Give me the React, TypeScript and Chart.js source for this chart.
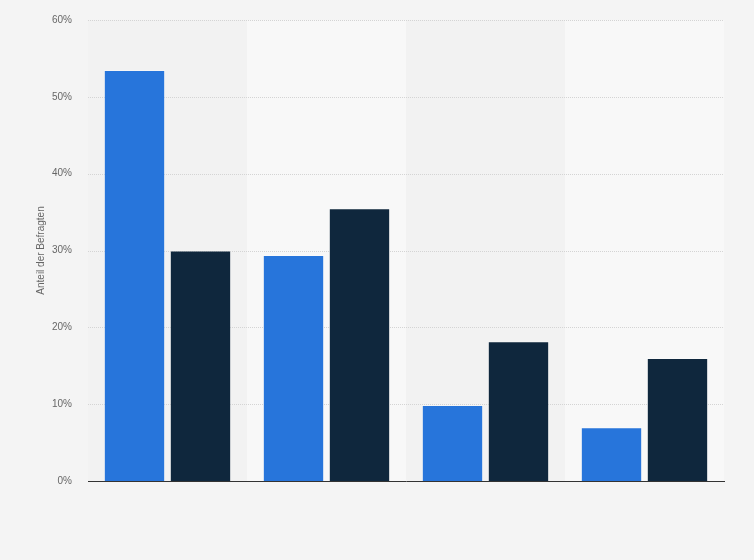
import React, { useEffect, useRef } from "react";
import { Chart, registerables } from "chart.js";

Chart.register(...registerables);

const categories = ["Kategorie A", "Kategorie B", "Kategorie C", "Kategorie D"];
const seriesBlue = [53.5, 29.4, 9.9, 7.0];
const seriesDark = [30.0, 35.5, 18.2, 16.0];
const yTicks = [0, 10, 20, 30, 40, 50, 60];

const bandPlugin = {
  id: "bands",
  beforeDatasetsDraw(chart: any) {
    const { ctx, chartArea, scales } = chart;
    const x = scales.x;
    const n = categories.length;
    const w = (chartArea.right - chartArea.left) / n;
    ctx.save();
    for (let i = 0; i < n; i++) {
      const c = x.getPixelForValue(i);
      ctx.fillStyle = i % 2 === 0 ? "#f2f2f2" : "#f8f8f8";
      ctx.fillRect(c - w / 2, chartArea.top, w, chartArea.bottom - chartArea.top);
    }
    ctx.restore();
  },
};

const gridPlugin = {
  id: "dotGrid",
  beforeDatasetsDraw(chart: any) {
    const { ctx, chartArea, scales } = chart;
    const y = scales.y;
    ctx.save();
    ctx.strokeStyle = "#d4d4d4";
    ctx.lineWidth = 1;
    ctx.setLineDash([1, 1]);
    for (const t of yTicks) {
      if (t === 0) continue;
      const py = Math.round(y.getPixelForValue(t)) + 0.5;
      ctx.beginPath();
      ctx.moveTo(chartArea.left, py);
      ctx.lineTo(chartArea.right, py);
      ctx.stroke();
    }
    ctx.restore();
  },
};

export default function App() {
  const ref = useRef<HTMLCanvasElement | null>(null);
  useEffect(() => {
    if (!ref.current) return;
    const chart = new Chart(ref.current, {
      type: "bar",
      data: {
        labels: categories,
        datasets: [
          {
            label: "Reihe 1",
            data: seriesBlue,
            backgroundColor: "#2775db",
            borderColor: "rgba(255,255,255,0.3)",
            borderWidth: 1,
            categoryPercentage: 0.83,
            barPercentage: 0.93,
          },
          {
            label: "Reihe 2",
            data: seriesDark,
            backgroundColor: "#0f273d",
            borderColor: "rgba(255,255,255,0.3)",
            borderWidth: 1,
            categoryPercentage: 0.83,
            barPercentage: 0.93,
          },
        ],
      },
      plugins: [bandPlugin, gridPlugin],
      options: {
        animation: false,
        responsive: false,
        maintainAspectRatio: false,
        layout: { padding: { left: 35, right: 30, top: 20, bottom: 71 } },
        plugins: {
          legend: { display: false },
          tooltip: { enabled: false },
        },
        scales: {
          x: {
            ticks: { display: false },
            grid: { display: false },
            border: { display: true, color: "#333333", width: 1 },
          },
          y: {
            min: 0,
            max: 60,
            afterFit(scale: any) {
              scale.width = 53;
            },
            ticks: {
              stepSize: 10,
              padding: 8,
              color: "#666666",
              font: { family: "'Liberation Sans', Arial, sans-serif", size: 10 },
              callback: (v: any) => `${v}%`,
            },
            grid: { display: false },
            border: { display: false },
            title: {
              display: true,
              text: "Anteil der Befragten",
              color: "#666666",
              font: { family: "'Liberation Sans', Arial, sans-serif", size: 10 },
              padding: { top: 0, bottom: 0 },
            },
          },
        },
      },
    });
    return () => chart.destroy();
  }, []);
  return (
    <div
      style={{
        position: "absolute",
        left: 0,
        top: 0,
        width: 754,
        height: 560,
        background: "#f4f4f4",
      }}
    >
      <canvas ref={ref} width={754} height={560} style={{ width: 754, height: 560, display: "block" }} />
    </div>
  );
}
